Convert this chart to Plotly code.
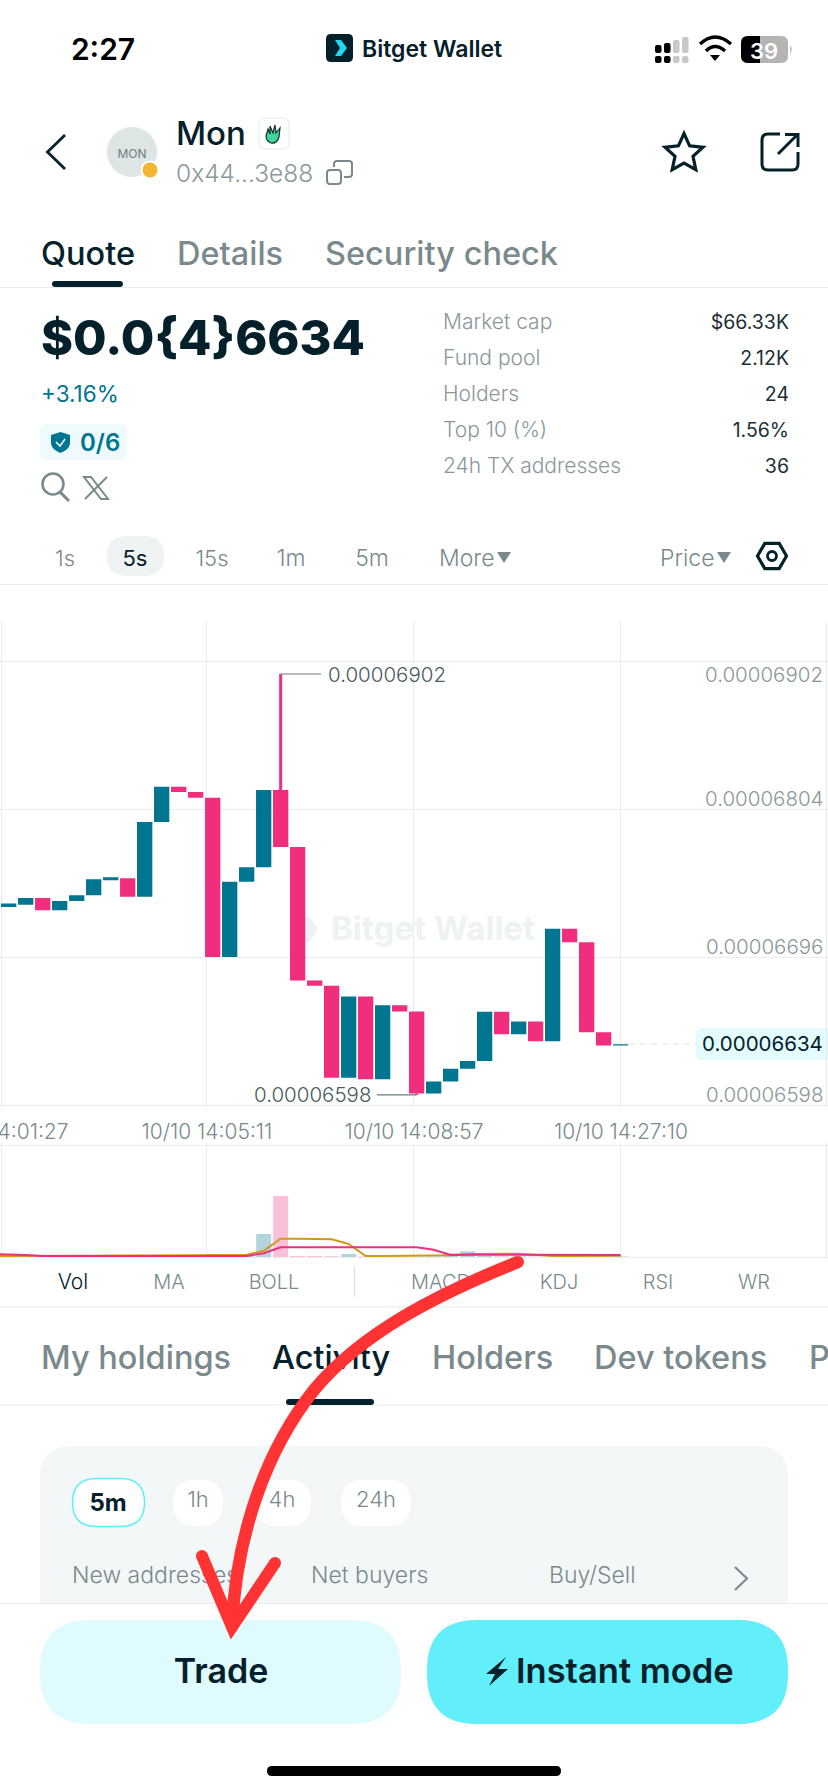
import math
import plotly.graph_objects as go

# prices are in units of 1e-8 (6902 = 0.00006902)
opens = [6733.8, 6735.4, 6740.2, 6731.3, 6738.1, 6742.2, 6753.0, 6754.5, 6741.2, 6795.1,
         6820.6, 6816.8, 6812.7, 6697.6, 6752.0, 6762.4, 6818.2, 6777.1, 6680.6, 6676.9,
         6610.3, 6669.0, 6609.3, 6662.7, 6658.2, 6599.0, 6607.6, 6616.8, 6622.5, 6658.0,
         6641.8, 6651.0, 6636.7, 6718.1, 6708.2, 6643.3, 6633.6]
closes = [6736.2, 6740.2, 6731.3, 6738.1, 6742.2, 6753.7, 6755.2, 6741.2, 6795.1, 6820.6,
          6816.8, 6812.7, 6697.6, 6752.0, 6762.4, 6818.2, 6777.1, 6680.6, 6676.9, 6610.3,
          6669.0, 6609.3, 6662.7, 6658.2, 6599.0, 6607.6, 6616.8, 6622.5, 6658.0, 6641.8,
          6651.0, 6636.7, 6718.1, 6708.2, 6643.3, 6633.6, 6634.6]
highs = [6736.2, 6740.2, 6740.2, 6738.1, 6742.2, 6753.7, 6755.2, 6754.5, 6795.1, 6820.6,
         6820.6, 6816.8, 6812.7, 6752.0, 6762.4, 6818.2, 6902.0, 6777.1, 6680.6, 6676.9,
         6669.0, 6669.0, 6662.7, 6662.7, 6658.2, 6607.6, 6616.8, 6622.5, 6658.0, 6658.0,
         6651.0, 6651.0, 6718.1, 6718.1, 6708.2, 6643.3, 6634.6]
lows = [6733.8, 6735.4, 6731.3, 6731.3, 6738.1, 6742.2, 6753.0, 6741.2, 6741.2, 6795.1,
        6816.8, 6812.7, 6697.6, 6697.6, 6752.0, 6762.4, 6777.1, 6680.6, 6676.9, 6610.3,
        6610.3, 6609.3, 6609.3, 6658.2, 6598.0, 6599.0, 6607.6, 6616.8, 6622.5, 6641.8,
        6641.8, 6636.7, 6636.7, 6708.2, 6643.3, 6633.6, 6633.6]
last_price = 6634.8

# volume panel, no scale on screen so the units are arbitrary
volumes = [0.6, 0.6, 0.4, 0.3, 0.3, 0.3, 0.3, 0.3, 0.3, 0.3, 0.3, 0.4, 0.6, 0.8, 1.2, 23.0, 61.0,
           1.0, 1.0, 0.8, 3.0, 0.6, 0.5, 0.5, 0.5, 0.6, 3.7, 5.7, 1.0, 0.8, 0.7, 0.5, 0.6, 0.5, 0.5, 0.5, 0.5]
# the average lines start left of the first candle, at the panel edge
ma_gold = [1.0, 1.0, 1.0, 1.0, 1.0, 1.0, 1.0, 1.0, 1.0, 1.0, 1.0, 1.3, 1.7, 2.0, 2.3, 2.3, 6.3, 18.3,
           18.3, 18.0, 17.7, 13.0, 1.0, 1.0, 1.3, 1.3, 1.3, 1.7, 3.0, 3.3, 3.3, 3.3, 2.3, 1.0, 1.0, 1.0, 1.3, 1.3]
ma_pink = [2.7, 2.7, 2.0, 1.0, 1.0, 1.0, 1.0, 1.0, 1.0, 1.0, 1.0, 1.0, 1.0, 1.0, 1.0, 1.0, 3.7, 9.7,
           9.7, 9.7, 9.7, 9.7, 9.7, 9.7, 9.7, 9.7, 7.3, 2.0, 2.3, 2.3, 2.3, 2.7, 2.0, 2.0, 2.0, 2.0, 2.0, 2.0]

time_ticks = [-0.45, 11.66, 23.84, 36.02, 48.13]
time_labels = ["10/10 14:01:27", "10/10 14:05:11", "10/10 14:08:57", "10/10 14:27:10", ""]
grid_prices = [6590.5, 6697.4, 6804.3, 6911.4]
price_labels = ["0.00006598", "0.00006696", "0.00006804", "0.00006902"]

TEAL = "#00758F"
PINK = "#F02E7D"
DARK = "#03202B"
GREY = "#7A8A8C"
GRID = "#E8EDED"
RED = "#FF3333"
FONT = "Inter"
W, H = 828, 1792

x_range = [-0.512, 48.2]
price_range = [6588.9, 6940.3]
idx = list(range(len(opens)))

fig = go.Figure()

# ---- screen furniture: axes x/y run in screen pixels
shapes = []


def rrect(x0, y0, x1, y1, r, fill, line=None, lw=1.5, layer="below"):
    p = (f"M{x0+r},{y0} L{x1-r},{y0} Q{x1},{y0} {x1},{y0+r} L{x1},{y1-r} Q{x1},{y1} {x1-r},{y1} "
         f"L{x0+r},{y1} Q{x0},{y1} {x0},{y1-r} L{x0},{y0+r} Q{x0},{y0} {x0+r},{y0} Z")
    path(p, fill, line, lw, layer)


def path(p, fill=None, line=None, lw=2, layer="below"):
    shapes.append(dict(type="path", path=p, xref="x", yref="y", layer=layer,
                       fillcolor=fill or "rgba(0,0,0,0)",
                       line=dict(color=line or "rgba(0,0,0,0)", width=lw if line else 0)))


def circle(cx, cy, r, fill=None, line=None, lw=2, layer="below"):
    shapes.append(dict(type="circle", xref="x", yref="y", x0=cx-r, x1=cx+r, y0=cy-r, y1=cy+r, layer=layer,
                       fillcolor=fill or "rgba(0,0,0,0)",
                       line=dict(color=line or "rgba(0,0,0,0)", width=lw if line else 0)))


def hline(x0, x1, y, color="#E6EBEB", lw=1.2):
    path(f"M{x0},{y} L{x1},{y}", None, color, lw)


# status bar
rrect(326, 34, 353, 62, 5, DARK)
path("M335,40 L341,40 L347,48 L341,56 L335,56 L340,48 Z", "#22D9F0")
for bx, top, col in [(655, 45, "#000000"), (664, 43, "#000000"), (673, 40, "#C8C8C8"), (682, 37, "#C8C8C8")]:
    rrect(bx, top, bx+6.5, 53, 2, col)
    rrect(bx, 56, bx+6.5, 63, 2, col if bx < 680 else "#C8C8C8")
path("M700,44 Q715,30 731,44", None, "#000000", 3.5)
path("M706,51 Q715,42 725,51", None, "#000000", 3.5)
path("M710,55 L720,55 L715,61 Z", "#000000")
rrect(741, 36, 788, 63, 7, "#B4B4B4")
path("M748,36 L760,36 L760,63 L748,63 Q741,63 741,56 L741,43 Q741,36 748,36 Z", "#000000")
path("M790,45 Q794,49 790,54 Z", "#C4C4C4")

# header icons
path("M65,135 L47.5,152 L65,169", None, DARK, 2.8)
circle(132, 152, 25, "#DDE5E5")
circle(150, 170, 9.5, "#FFFFFF")
circle(150, 170, 7.5, "#F5B42E")
rrect(259, 118, 289, 149, 6, "#FFFFFF", "#E4EAEA", 1)
path("M268,129 L270,134 L270,126 L273,133 L275,125 L276,133 L280,128 L279,137 Q277,144 271,143 Q266,141 266,136 Z",
     "#3ED69A", "#12312F", 1.2)
rrect(327, 170, 341, 184, 3, None, GREY, 2)
path("M334,167 L334,164 Q334,161 337,161 L349,161 Q352,161 352,164 L352,174 Q352,177 349,177 L344,177", None, GREY, 2)
star = [(684 + (20 if k % 2 == 0 else 9.5) * math.sin(k * math.pi / 5),
         153.5 - (20 if k % 2 == 0 else 9.5) * math.cos(k * math.pi / 5)) for k in range(10)]
path("M" + " L".join(f"{a:.1f},{b:.1f}" for a, b in star) + " Z", None, DARK, 3.2)
path("M780,134 L768,134 Q762,134 762,140 L762,164 Q762,170 768,170 L792,170 Q798,170 798,164 L798,152", None, DARK, 3)
path("M778,154 L797,135 M785,134.5 L798,134.5 L798,147", None, DARK, 3)

# tabs and quote block
rrect(52, 281, 123, 287, 3, DARK)
hline(0, W, 287.5)
rrect(40, 424, 127, 460, 7, "#EFFAFC")
path("M51,435 L60.5,432 L70,435 L70,443 Q70,449 60.5,453 Q51,449 51,443 Z", TEAL)
path("M56,442 L60,446 L65,439", None, "#FFFFFF", 1.5)
circle(53, 484, 10.5, None, GREY, 2.5)
path("M60,492 L69,501", None, GREY, 3)
path("M84,477 L91,477 L108,499 L101,499 Z", None, GREY, 2)
path("M107,477 L85,499", None, GREY, 2)
rrect(107, 536, 164, 576, 20, "#F0F3F3")
path("M497,552 L511,552 L504,563 Z", GREY)
path("M717,552 L731,552 L724,563 Z", GREY)
hex_pts = [(772 + 14.5 * math.cos(math.pi * k / 3), 556 + 14.5 * math.sin(math.pi * k / 3)) for k in range(6)]
path("M" + " L".join(f"{a:.1f},{b:.1f}" for a, b in hex_pts) + " Z", None, DARK, 3.2)
circle(772, 556, 4.5, None, DARK, 2.8)
hline(0, W, 584.5)

# watermark chevron and last price tag
path("M306,917 L310,917 L318,929 L310,942 L306,942 Z", "#EDF2F2")
rrect(696, 1028, 836, 1060, 5, "#E3FBFD")

# indicator switcher, lower tabs, card and buttons
path("M354.5,1267 L354.5,1297", None, "#DFE6E6", 1.5)
hline(0, W, 1307)
hline(0, W, 1405)
rrect(286, 1399, 374, 1405, 3, DARK)
rrect(40, 1446, 788, 1640, 32, "#F4F7F8")
rrect(0, 1603.5, W, 1792, 0, "#FFFFFF")
hline(0, W, 1603.5, "#ECEFEF", 1)
rrect(72.5, 1478.5, 144.5, 1526.5, 24, "#FFFFFF", "#5FEFFA", 1.5)
rrect(172, 1479, 224, 1527, 24, "#FFFFFF", "#F0F2F2", 1)
rrect(254, 1479, 312, 1527, 24, "#FFFFFF", "#F0F2F2", 1)
rrect(340, 1479, 412, 1527, 24, "#FFFFFF", "#F0F2F2", 1)
path("M735,1567 L747,1578.5 L735,1590", None, GREY, 2.2)
rrect(40, 1620, 401, 1724, 50, "#E0FBFD")
rrect(427, 1620, 788, 1724, 50, "#62EFFA")
path("M506,1657 L486,1674 L495,1674 L489,1686 L508,1669 L498,1669 Z", DARK)
rrect(267, 1766, 561, 1776, 5, "#000000")

# arrow goes above everything
path("M518,1262 C440,1293 362,1332 314,1390 C266,1450 236,1535 232,1627", None, RED, 12.5, "above")
path("M202,1556 L232,1627 L275,1563", None, RED, 12, "above")
for cx, cy in [(518, 1262), (202, 1556), (275, 1563), (232, 1627)]:
    circle(cx, cy, 6, RED, layer="above")

# all screen text in one trace so the arrow can sit on top of it
labels = [
    ("2:27", 103, 49, 30, "#000000", 600, "middle center"),
    ("Bitget Wallet", 362, 48, 23, DARK, 600, "middle right"),
    ("39", 764, 50, 22, "#FFFFFF", 600, "middle center"),
    ("MON", 132, 152, 12, "#6F7F80", 400, "middle center"),
    ("Mon", 176, 134, 33, DARK, 500, "middle right"),
    ("0x44...3e88", 176, 173, 24.5, "#8A9899", 300, "middle right"),
    ("Quote", 41, 254, 32.5, DARK, 500, "middle right"),
    ("Details", 177, 254, 32.5, GREY, 500, "middle right"),
    ("Security check", 325, 254, 32.5, GREY, 500, "middle right"),
    ("$0.0{4}6634", 41, 340, 48.6, DARK, 800, "middle right"),
    ("+3.16%", 41, 393, 22.5, TEAL, 400, "middle right"),
    ("0/6", 80, 442, 24, TEAL, 600, "middle right"),
    ("Market cap", 443, 321, 21, "#8A9899", 300, "middle right"),
    ("Fund pool", 443, 357, 21, "#8A9899", 300, "middle right"),
    ("Holders", 443, 393, 21, "#8A9899", 300, "middle right"),
    ("Top 10 (%)", 443, 429, 21, "#8A9899", 300, "middle right"),
    ("24h TX addresses", 443, 465, 21, "#8A9899", 300, "middle right"),
    ("$66.33K", 789, 321, 19.5, "#1D2F36", 400, "middle left"),
    ("2.12K", 789, 357, 19.5, "#1D2F36", 400, "middle left"),
    ("24", 789, 393, 19.5, "#1D2F36", 400, "middle left"),
    ("1.56%", 789, 429, 19.5, "#1D2F36", 400, "middle left"),
    ("36", 789, 465, 19.5, "#1D2F36", 400, "middle left"),
    ("1s", 65, 557, 22, GREY, 300, "middle center"),
    ("5s", 135, 557, 22, DARK, 400, "middle center"),
    ("15s", 212, 557, 22, GREY, 300, "middle center"),
    ("1m", 291, 557, 23, GREY, 300, "middle center"),
    ("5m", 372, 557, 23, GREY, 300, "middle center"),
    ("More", 439, 557, 23, GREY, 300, "middle right"),
    ("Price", 660, 557, 23, GREY, 300, "middle right"),
    ("Bitget Wallet", 331, 929, 33, "#EDF2F2", 700, "middle right"),
    ("Vol", 73, 1281, 21, DARK, 300, "middle center"),
    ("MA", 169, 1281, 20, GREY, 300, "middle center"),
    ("BOLL", 274, 1281, 20, GREY, 300, "middle center"),
    ("MACD", 441, 1281, 20, GREY, 300, "middle center"),
    ("KDJ", 559, 1281, 20, GREY, 300, "middle center"),
    ("RSI", 658, 1281, 20, GREY, 300, "middle center"),
    ("WR", 754, 1281, 20, GREY, 300, "middle center"),
    ("My holdings", 41, 1358, 32.5, GREY, 500, "middle right"),
    ("Activity", 272, 1358, 32.5, DARK, 500, "middle right"),
    ("Holders", 432, 1358, 32.5, GREY, 500, "middle right"),
    ("Dev tokens", 594, 1358, 32.5, GREY, 500, "middle right"),
    ("P", 809, 1358, 32.5, GREY, 500, "middle right"),
    ("5m", 108, 1502, 24, DARK, 700, "middle center"),
    ("1h", 198, 1498, 22, GREY, 300, "middle center"),
    ("4h", 282, 1498, 22, GREY, 300, "middle center"),
    ("24h", 376, 1498, 22, GREY, 300, "middle center"),
    ("New addresses", 72, 1574, 23, GREY, 300, "middle right"),
    ("Net buyers", 311, 1574, 23, GREY, 300, "middle right"),
    ("Buy/Sell", 549, 1574, 23, GREY, 300, "middle right"),
    ("Trade", 221, 1671, 34, DARK, 600, "middle center"),
    ("Instant mode", 516, 1671, 34.5, DARK, 600, "middle right"),
]
fig.add_trace(go.Scatter(
    x=[a[1] for a in labels], y=[a[2] + 3 for a in labels], text=[a[0] for a in labels],
    mode="text", hoverinfo="skip", showlegend=False, cliponaxis=False,
    textposition=[a[6] for a in labels],
    textfont=dict(family=FONT, size=[a[3] for a in labels], color=[a[4] for a in labels],
                  weight=[a[5] for a in labels]),
    xaxis="x", yaxis="y",
))

# ---- price panel
fig.add_trace(go.Candlestick(
    x=idx, open=opens, high=highs, low=lows, close=closes, xaxis="x2", yaxis="y2",
    increasing=dict(fillcolor=TEAL, line=dict(color=TEAL, width=0)),
    decreasing=dict(fillcolor=PINK, line=dict(color=PINK, width=0)),
    showlegend=False,
))
# wicks are thicker than the body outline, so they get their own line
wick_x, wick_y = [], []
for i in idx:
    if highs[i] > max(opens[i], closes[i]):
        wick_x += [i, i, None]
        wick_y += [max(opens[i], closes[i]), highs[i], None]
    if lows[i] < min(opens[i], closes[i]):
        wick_x += [i, i, None]
        wick_y += [min(opens[i], closes[i]), lows[i], None]
fig.add_trace(go.Scatter(x=wick_x, y=wick_y, mode="lines", line=dict(color=PINK, width=3),
                         xaxis="x2", yaxis="y2", showlegend=False, hoverinfo="skip"))
# leader lines to the high / low callouts, dashed last price line
for xs, ys in [([16, 18.37], [6902, 6902]), ([21.66, 24], [6598, 6598])]:
    fig.add_trace(go.Scatter(x=xs, y=ys, mode="lines", line=dict(color="#6B7A7C", width=1.2),
                             xaxis="x2", yaxis="y2", showlegend=False, hoverinfo="skip"))
fig.add_trace(go.Scatter(x=[36.5, 40.45], y=[last_price, last_price], mode="lines",
                         line=dict(color="#E3E9E9", width=1.2, dash="6px,5px"),
                         xaxis="x2", yaxis="y2", showlegend=False, hoverinfo="skip"))

# ---- volume panel
bar_colors = ["rgba(0,117,143,0.3)" if c >= o else "rgba(240,46,125,0.3)" for o, c in zip(opens, closes)]
fig.add_trace(go.Bar(x=idx, y=volumes, marker=dict(color=bar_colors, line=dict(width=0)), width=0.88,
                     xaxis="x3", yaxis="y3", showlegend=False))
fig.add_trace(go.Scatter(x=[-0.51] + idx, y=ma_gold, mode="lines", line=dict(color="#D1981A", width=2),
                         xaxis="x3", yaxis="y3", showlegend=False))
fig.add_trace(go.Scatter(x=[-0.51] + idx, y=ma_pink, mode="lines", line=dict(color=PINK, width=2),
                         xaxis="x3", yaxis="y3", showlegend=False))

# right-hand price labels sit just above their gridlines, the top one below it
annotations = []
for val, txt in zip(grid_prices, price_labels):
    is_top = txt.endswith("6902")
    annotations.append(dict(x=825 / W, xref="paper", y=val, yref="y2", text=txt, showarrow=False,
                            xanchor="right", yanchor="top" if is_top else "bottom",
                            yshift=1 if is_top else -4,
                            font=dict(family=FONT, size=20.5, color="#8A9899", weight=300)))
annotations.append(dict(x=825 / W, xref="paper", y=last_price, yref="y2", text="0.00006634", showarrow=False,
                        xanchor="right", yanchor="middle", font=dict(family=FONT, size=20.5, color=DARK, weight=400)))
annotations.append(dict(x=18.65, xref="x2", y=6902, yref="y2", text="0.00006902", showarrow=False,
                        xanchor="left", yanchor="middle", font=dict(family=FONT, size=20.5, color="#4A5A5E", weight=300)))
annotations.append(dict(x=21.45, xref="x2", y=6598, yref="y2", text="0.00006598", showarrow=False,
                        xanchor="right", yanchor="middle", font=dict(family=FONT, size=20.5, color="#4A5A5E", weight=300)))

fig.update_layout(
    width=W, height=H, margin=dict(l=0, r=0, t=0, b=0, pad=0, autoexpand=False),
    paper_bgcolor="#FFFFFF", plot_bgcolor="rgba(0,0,0,0)", showlegend=False,
    boxgap=0.1, boxgroupgap=0, bargap=0.1, shapes=shapes, annotations=annotations, hovermode=False,
    xaxis=dict(range=[0, W], visible=False, domain=[0, 1], fixedrange=True),
    yaxis=dict(range=[H, 0], visible=False, domain=[0, 1], fixedrange=True),
    xaxis2=dict(range=x_range, domain=[0, 1], anchor="y2", tickmode="array", tickvals=time_ticks,
                ticktext=time_labels, showgrid=True, gridcolor=GRID, gridwidth=1.4, zeroline=False,
                showline=False, ticks="outside", ticklen=5, tickcolor="rgba(0,0,0,0)",
                ticklabeloverflow="allow",
                tickfont=dict(family=FONT, size=21, color=GREY, weight=300),
                tickangle=0, rangeslider=dict(visible=False), fixedrange=True),
    yaxis2=dict(range=price_range, domain=[1 - 1107.5 / H, 1 - 621 / H], anchor="x2", side="right",
                tickmode="array", tickvals=grid_prices, showticklabels=False, showgrid=True, gridcolor=GRID,
                gridwidth=1.2, zeroline=False, showline=False, ticks="", fixedrange=True),
    xaxis3=dict(range=x_range, domain=[0, 1], anchor="y3", tickmode="array", tickvals=time_ticks,
                showticklabels=False, showgrid=True, gridcolor=GRID, gridwidth=1.4, zeroline=False,
                showline=False, ticks="", fixedrange=True),
    yaxis3=dict(range=[-2, 114], domain=[1 - 1259 / H, 1 - 1143 / H], anchor="x3", tickmode="array",
                tickvals=[0, 112], showticklabels=False, showgrid=True, gridcolor=GRID, gridwidth=1.2,
                zeroline=False, showline=False, ticks="", fixedrange=True),
)

# the page's default 8px body margin would push the screen off its own size
fig.write_html("out.html", config=dict(displayModeBar=False),
               post_script="document.body.style.margin='0';")
